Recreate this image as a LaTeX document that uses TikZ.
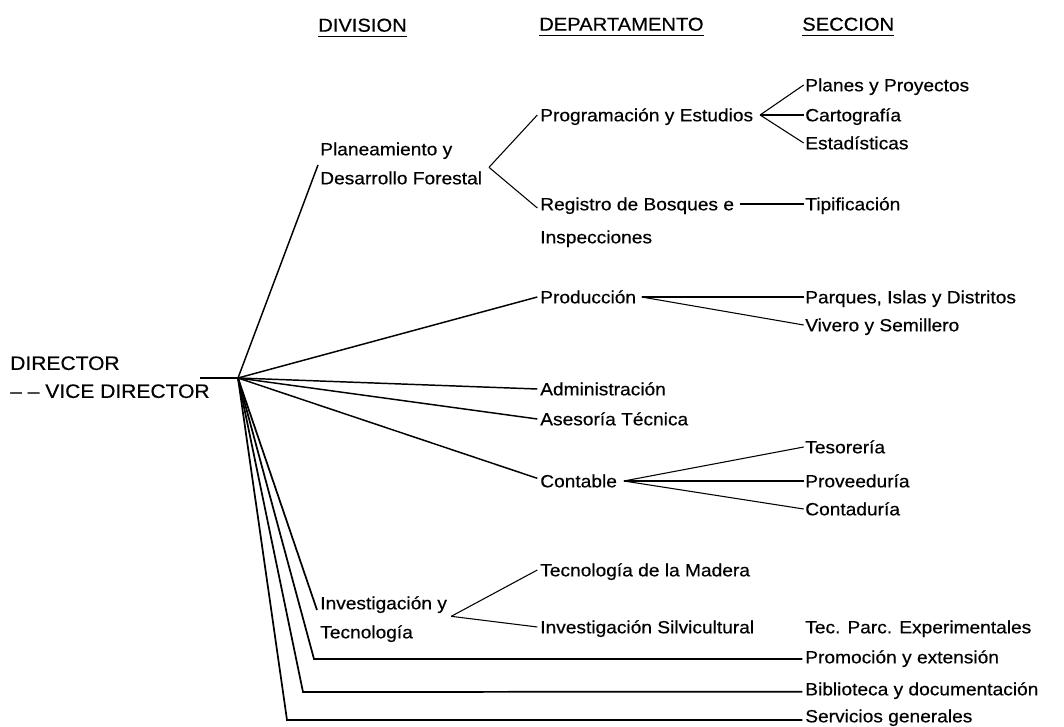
\documentclass[tikz,border=0pt]{standalone}
\usepackage{fontspec}
\setmainfont{Liberation Sans}[FakeStretch=1.08,FakeBold=0.4]
\begin{document}
\begin{tikzpicture}[x=0.75pt,y=-0.75pt,
  txt/.style={anchor=west,inner sep=0pt,text height=9.5pt,text depth=0pt,font=\fontsize{13.3pt}{15pt}\selectfont},
  hdr/.style={anchor=west,inner sep=0pt,text height=10pt,text depth=0pt,font=\fontsize{14pt}{16pt}\selectfont},
  big/.style={anchor=west,inner sep=0pt,text height=10.4pt,text depth=0pt,font=\fontsize{14.6pt}{17pt}\selectfont},
  fan/.style={line width=1.1pt},
  fanb/.style={line width=1.3pt},
  br/.style={line width=0.8pt},
  uline/.style={line width=1pt}]
\useasboundingbox[fill=white] (0,0) rectangle (1064,727);

% headers
\node[hdr] (hdiv) at (318,25) {DIVISION};
\node[hdr] (hdep) at (539,24) {DEPARTAMENTO};
\node[hdr] (hsec) at (802,24) {SECCION};
\foreach \h in {hdiv,hdep,hsec}{
  \draw[uline] ([yshift=-3.5pt]\h.south west) -- ([yshift=-3.5pt]\h.south east);
}

% director
\node[big] (dir) at (10,363) {DIRECTOR};
\node[big] (vdir) at (10,391) {-- -- VICE DIRECTOR};
\coordinate (V) at (238,378);
\coordinate (vs) at (200,378);
\draw[br] (vs) -- (V);

% division nodes
\node[txt] (plan1) at (320,149) {Planeamiento y};
\node[txt] (plan2) at (320,178) {Desarrollo Forestal};
\coordinate (planE) at (318,165);
\node[txt] (inv1) at (320,603) {Investigación y};
\node[txt] (inv2) at (320,632) {Tecnología};
\coordinate (invE) at (317,610);

% departments
\node[txt] (prog) at (540,115) {Programación y Estudios};
\node[txt] (reg1) at (540,204) {Registro de Bosques e};
\node[txt] (reg2) at (540,237) {Inspecciones};
\node[txt] (prod) at (540,297) {Producción};
\node[txt] (adm) at (540,389) {Administración};
\node[txt] (ases) at (540,419) {Asesoría Técnica};
\node[txt] (cont) at (540,481) {Contable};
\node[txt] (tmad) at (540,570) {Tecnología de la Madera};
\node[txt] (isil) at (540,627) {Investigación Silvicultural};

% sections
\node[txt] (plap) at (805,85) {Planes y Proyectos};
\node[txt] (cart) at (805,115) {Cartografía};
\node[txt] (esta) at (805,143) {Estadísticas};
\node[txt] (tipi) at (805,204) {Tipificación};
\node[txt] (parq) at (805,297) {Parques, Islas y Distritos};
\node[txt] (vive) at (805,325) {Vivero y Semillero};
\node[txt] (teso) at (805,447) {Tesorería};
\node[txt] (prov) at (805,481) {Proveeduría};
\node[txt] (ctad) at (805,509) {Contaduría};
\node[txt] (tecp) at (805,627) {Tec. Parc. Experimentales};
\node[txt] (prom) at (805,657) {Promoción y extensión};
\node[txt] (bibl) at (805,689) {Biblioteca y documentación};
\node[txt] (serv) at (805,716) {Servicios generales};

% fan from director
\draw[fan] (V) -- (planE);
\draw[fan] (V) -- ([xshift=-2pt]prod.west);
\draw[fan] (V) -- ([xshift=-2pt]adm.west);
\draw[fan] (V) -- ([xshift=-2pt]ases.west);
\draw[fan] (V) -- ([xshift=-2pt,yshift=2pt]cont.west);
\draw[fanb] (V) -- (invE);
\coordinate (promC) at (314,659);
\coordinate (biblC) at (303,692);
\coordinate (servC) at (287,720);
\draw[fanb] (V) -- (promC) -- ([xshift=-2pt,yshift=-1.5pt]prom.west);
\draw[fanb] (V) -- (biblC) -- ([xshift=-2pt,yshift=-2pt]bibl.west);
\draw[fanb] (V) -- (servC) -- ([xshift=-2pt,yshift=-3pt]serv.west);

% Planeamiento fork
\coordinate (F1) at ([xshift=5pt,yshift=8pt]plan2.east);
\draw[br] (F1) -- ([xshift=-2pt]prog.west);
\draw[br] (F1) -- ([xshift=-2pt,yshift=-3pt]reg1.west);
% Programacion fork
\coordinate (F2) at ([xshift=5pt]prog.east);
\draw[br] (F2) -- ([xshift=-1pt]plap.west);
\draw[br] (F2) -- ([xshift=-1pt]cart.west);
\draw[br] (F2) -- ([xshift=-1pt]esta.west);
% Registro
\coordinate (R1) at ([xshift=4pt]reg1.east);
\draw[br] (R1) -- ([xshift=-1pt]tipi.west);
% Produccion
\coordinate (P1) at ([xshift=4pt]prod.east);
\draw[br] (P1) -- ([xshift=-1pt]parq.west);
\draw[br] (P1) -- ([xshift=-1pt]vive.west);
% Contable
\coordinate (C1) at ([xshift=5pt]cont.east);
\draw[br] (C1) -- ([xshift=-1pt]teso.west);
\draw[br] (C1) -- ([xshift=-1pt]prov.west);
\draw[br] (C1) -- ([xshift=-1pt]ctad.west);
% Investigacion fork
\coordinate (F3) at ([xshift=3pt,yshift=-10pt]inv1.east);
\draw[br] (F3) -- ([xshift=-2pt]tmad.west);
\draw[br] (F3) -- ([xshift=-2pt]isil.west);
\end{tikzpicture}
\end{document}
